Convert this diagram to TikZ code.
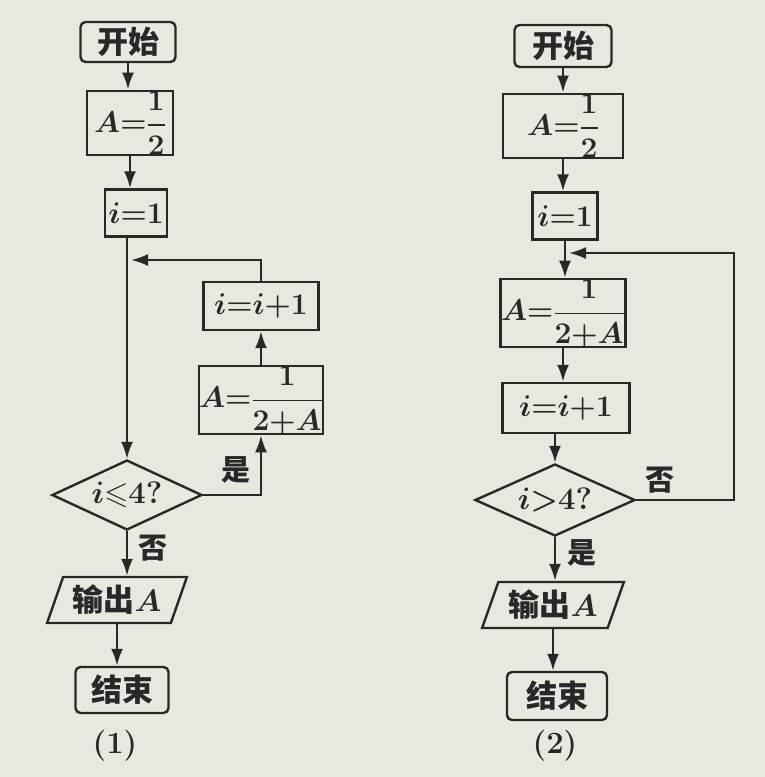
\RequirePackage{fix-cm}
\documentclass[tikz,border=0pt]{standalone}
\usepackage{amsmath,amssymb}
\usepackage{fontspec}
\newfontfamily\cjk{Noto Sans CJK SC}
\usetikzlibrary{arrows.meta,shapes.geometric}
\definecolor{bgc}{RGB}{234,231,224}
\definecolor{ink}{RGB}{40,40,40}
\begin{document}
\begin{tikzpicture}[x=1pt,y=-1pt,
 every node/.style={text=ink},
 base/.style={draw=ink,line width=2.4pt,inner sep=0pt,font=\fontsize{30}{36}\selectfont\boldmath},
 term/.style={base,rounded corners=5pt,font=\cjk\bfseries\fontsize{31}{36}\selectfont},
 proc/.style={base},
 dia/.style={base,diamond,aspect=2.1,font=\fontsize{31}{36}\selectfont\boldmath},
 io/.style={base,trapezium,trapezium left angle=66,trapezium right angle=114,trapezium stretches=true,font=\cjk\bfseries\fontsize{31}{36}\selectfont\boldmath},
 arr/.style={draw=ink,line width=2.4pt,-{Latex[length=17pt,width=12pt]}},
 lab/.style={font=\cjk\bfseries\fontsize{29}{34}\selectfont},
 captxt/.style={font=\fontsize{31}{36}\selectfont\bfseries}
]
\fill[bgc] (0,0) rectangle (765,777);
\useasboundingbox (0,0) rectangle (765,777);

% chart (1)
\node[term,minimum width=95,minimum height=40] (s1) at (128,42) {开始};
\node[proc,minimum width=86,minimum height=60] (a1) at (130,123) {$A{=}\dfrac{1}{2}$};
\node[proc,minimum width=62,minimum height=47] (i1) at (136,213) {$i{=}1$};
\node[proc,minimum width=115,minimum height=48] (inc1) at (261,306) {$i{=}i{+}1$};
\node[proc,minimum width=120,minimum height=64] (f1) at (261,400) {$A{=}\dfrac{1}{2{+}A}$};
\node[dia,minimum width=150,minimum height=70] (d1) at (127,495) {$i{\leqslant}4?$};
\node[io,minimum width=140,minimum height=46] (o1) at (117,600) {输出$A$};
\node[term,minimum width=93,minimum height=46] (e1) at (122,690) {结束};
\node[captxt] (c1) at (115,746) {(1)};
\coordinate (j1) at (131,260);

\draw[arr] (s1.south) -- (s1.south |- a1.north);
\draw[arr] (a1.south) -- (a1.south |- i1.north);
\draw[arr] (i1.south -| d1.north) -- (d1.north);
\draw[arr] (inc1.north) |- (j1);
\draw[arr] (f1.north) -- (inc1.south);
\draw[arr] (d1.east) -| (f1.south);
\node[lab] (y1) at (236,470) {是};
\draw[arr] (d1.south) -- (d1.south |- o1.north);
\node[lab] (n1) at (153,548) {否};
\draw[arr] (o1.south) -- (o1.south |- e1.north);

% chart (2)
\node[term,minimum width=97,minimum height=42] (s2) at (563,46) {开始};
\node[proc,minimum width=120,minimum height=58] (a2) at (563,126) {$A{=}\dfrac{1}{2}$};
\node[proc,minimum width=65,minimum height=47] (i2) at (565,216) {$i{=}1$};
\node[proc,minimum width=125,minimum height=63] (f2) at (563,313) {$A{=}\dfrac{1}{2{+}A}$};
\node[proc,minimum width=127,minimum height=50] (inc2) at (566,408) {$i{=}i{+}1$};
\node[dia,minimum width=160,minimum height=72] (d2) at (555,500) {$i{>}4?$};
\node[io,minimum width=142,minimum height=46] (o2) at (553,605) {输出$A$};
\node[term,minimum width=100,minimum height=48] (e2) at (557,696) {结束};
\node[captxt] (c2) at (555,746) {(2)};
\coordinate (j2) at (569,253);
\coordinate (r2) at (734,253);

\draw[arr] (s2.south) -- (s2.south |- a2.north);
\draw[arr] (a2.south) -- (a2.south |- i2.north);
\draw[arr] (i2.south) -- (i2.south |- f2.north);
\draw[arr] (d2.east) -| (r2) -- (j2);
\draw[arr] (f2.south) -- (f2.south |- inc2.north);
\draw[arr] (d2.north |- inc2.south) -- (d2.north);
\node[lab] (n2) at (660,480) {否};
\draw[arr] (d2.south) -- (d2.south |- o2.north);
\node[lab] (y2) at (582,553) {是};
\draw[arr] (o2.south) -- (o2.south |- e2.north);
\end{tikzpicture}
\end{document}
